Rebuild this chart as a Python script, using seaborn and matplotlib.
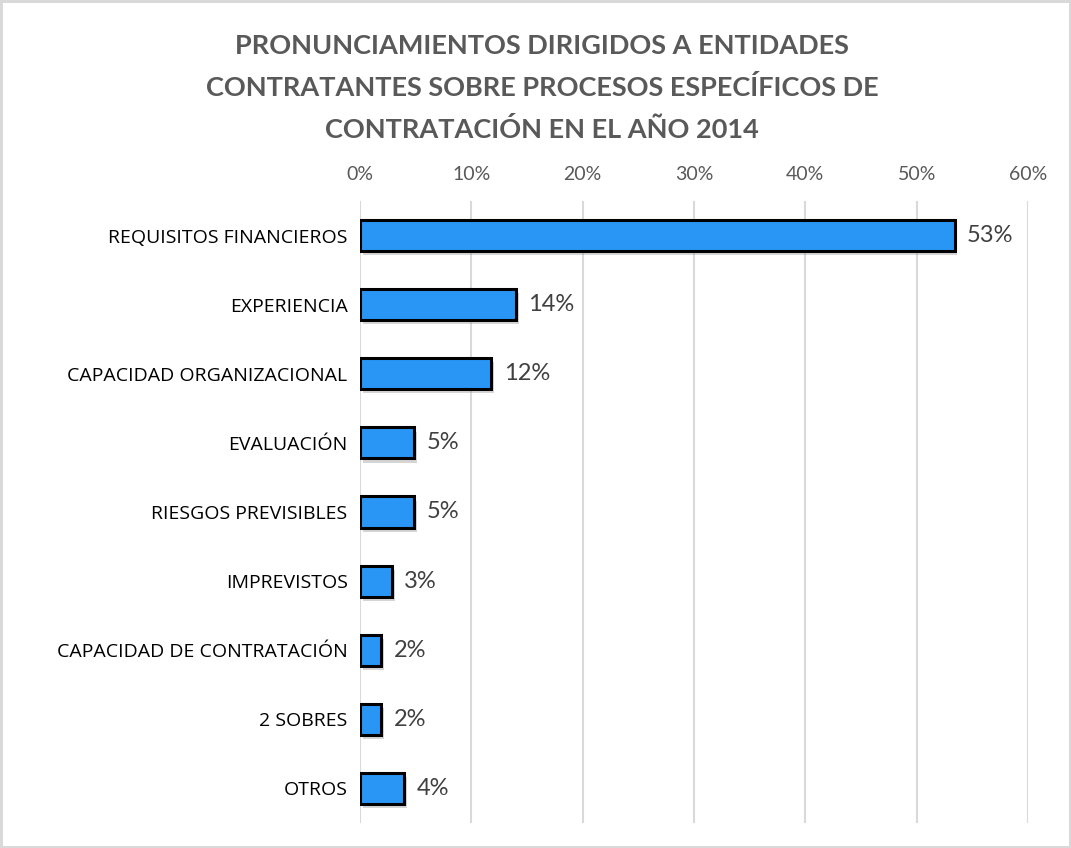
import numpy as np
import pandas as pd
import seaborn as sns
import matplotlib.pyplot as plt
import matplotlib.patheffects as pe

# data
categories = ["REQUISITOS FINANCIEROS", "EXPERIENCIA", "CAPACIDAD ORGANIZACIONAL",
              "EVALUACIÓN", "RIESGOS PREVISIBLES", "IMPREVISTOS",
              "CAPACIDAD DE CONTRATACIÓN", "2 SOBRES", "OTROS"]
shares = [53.4, 14.0, 11.8, 4.85, 4.85, 2.85, 1.9, 1.9, 3.95]
value_labels = ["53%", "14%", "12%", "5%", "5%", "3%", "2%", "2%", "4%"]
tick_values = [0, 10, 20, 30, 40, 50, 60]
tick_labels = ["0%", "10%", "20%", "30%", "40%", "50%", "60%"]
title = ("PRONUNCIAMIENTOS DIRIGIDOS A ENTIDADES\n"
         "CONTRATANTES SOBRE PROCESOS ESPECÍFICOS DE\n"
         "CONTRATACIÓN EN EL AÑO 2014")

df = pd.DataFrame({"categoria": categories, "porcentaje": shares})

sns.set_style("white")
plt.rcParams['font.family'] = ['Lato', 'DejaVu Sans']

fig = plt.figure(figsize=(10.71, 8.48), dpi=100, linewidth=2.5, edgecolor="#d9d9d9")
ax = fig.add_axes([360 / 1071, 1 - 823 / 848, (1028 - 360) / 1071, (823 - 201) / 848])

sns.barplot(data=df, x="porcentaje", y="categoria", orient="h", color="#2996f6",
            saturation=1, width=0.45, edgecolor="black", linewidth=2.2, ax=ax, zorder=3)
for bar in ax.patches:
    bar.set_path_effects([pe.SimplePatchShadow(offset=(2, -3), shadow_rgbFace="#888888", alpha=0.35),
                          pe.Normal()])

ax.bar_label(ax.containers[0], labels=value_labels, padding=9, fontsize=17,
             color="#404040", family=['Lato', 'DejaVu Sans'])

ax.set_xlim(0, 60)
ax.set_xticks(tick_values)
ax.set_xticklabels(tick_labels, fontsize=14, color="#595959")
ax.xaxis.tick_top()
ax.tick_params(axis="x", length=0, pad=13)
ax.tick_params(axis="y", length=0, pad=9)
for lbl in ax.get_yticklabels():
    lbl.set_fontfamily(['Open Sans', 'DejaVu Sans'])
    lbl.set_fontsize(14)
    lbl.set_color("black")
ax.grid(axis="x", color="#d9d9d9", linewidth=1.5, zorder=0)
ax.set_axisbelow(True)
for s in ax.spines.values():
    s.set_visible(False)
ax.set_xlabel("")
ax.set_ylabel("")

fig.text(542 / 1071, 1 - 88 / 848, title, ha="center", va="center", fontsize=19.5,
         fontweight="bold", color="#595959", linespacing=1.82)

fig.savefig("out.png", dpi=100, edgecolor=fig.get_edgecolor())
